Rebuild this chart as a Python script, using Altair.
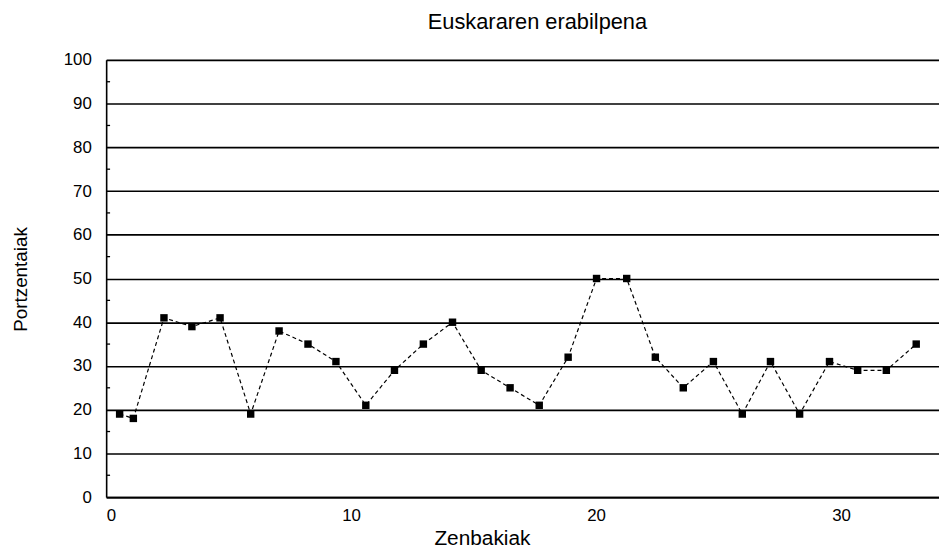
import altair as alt
import pandas as pd

# Data
x_vals = [0.55, 1.11, 2.36, 3.50, 4.65, 5.90, 7.06, 8.24, 9.38, 10.60,
          11.77, 12.95, 14.14, 15.31, 16.49, 17.68, 18.86, 20.02, 21.25, 22.42,
          23.56, 24.79, 25.97, 27.12, 28.31, 29.53, 30.68, 31.85, 33.07]
y_vals = [19, 18, 41, 39, 41, 19, 38, 35, 31, 21,
          29, 35, 40, 29, 25, 21, 32, 50, 50, 32,
          25, 31, 19, 31, 19, 31, 29, 29, 35]
y_ticks = list(range(0, 101, 10))
x_ticks = [0, 10, 20, 30]
minor_ticks = list(range(5, 100, 10))

FONT = "Liberation Sans"

df = pd.DataFrame({"x": x_vals, "y": y_vals})
minor_df = pd.DataFrame({"m": minor_ticks})

xscale = alt.Scale(domain=[0, 34], nice=False, zero=False)
yscale = alt.Scale(domain=[0, 100], nice=False)

x_enc = alt.X("x:Q", scale=xscale,
              axis=alt.Axis(values=x_ticks, grid=False, ticks=False, labelPadding=11,
                            labelFontSize=17, labelFont=FONT, labelColor="black",
                            domainColor="black", domainWidth=1.6,
                            title="Zenbakiak", titleFont=FONT, titleFontSize=21,
                            titleFontWeight="normal", titleColor="black",
                            titleX=379, titleY=48, titleBaseline="alphabetic",
                            titleAnchor="start", titleAlign="center"))
y_enc = alt.Y("y:Q", scale=yscale,
              axis=alt.Axis(values=y_ticks, grid=True, gridColor="black", gridWidth=1.6,
                            gridOpacity=1, ticks=False, labelPadding=15,
                            labelFontSize=17, labelFont=FONT, labelColor="black",
                            domainColor="black", domainWidth=1.6,
                            title="Portzentaiak", titleFont=FONT, titleFontSize=19,
                            titleFontWeight="normal", titleColor="black",
                            titleX=-86, titleY=221, titleAngle=270,
                            titleAlign="center", titleBaseline="middle"))

base = alt.Chart(df)

line = base.mark_line(color="black", strokeDash=[4, 3], strokeWidth=1.2).encode(
    x=x_enc, y=y_enc)
points = base.mark_square(color="black", size=56, opacity=1).encode(
    x="x:Q", y="y:Q")

minor = alt.Chart(minor_df).mark_rule(color="black", strokeWidth=1.3).encode(
    y=alt.Y("m:Q", scale=yscale),
    x=alt.datum(0, scale=xscale),
    x2=alt.datum(0.16),
)

chart = alt.layer(line, minor, points).properties(
    width=840,
    height=441,
    title=alt.TitleParams("Euskararen erabilpena", font=FONT, fontSize=22,
                          fontWeight="normal", color="black", anchor="middle",
                          frame="group", dx=15, offset=17),
    autosize=alt.AutoSizeParams(type="none"),
    padding={"left": 99, "top": 50, "right": 0, "bottom": 49},
).configure_view(stroke=None).configure(background="white")

chart.save("out.html", embed_options={"renderer": "svg", "actions": False})
